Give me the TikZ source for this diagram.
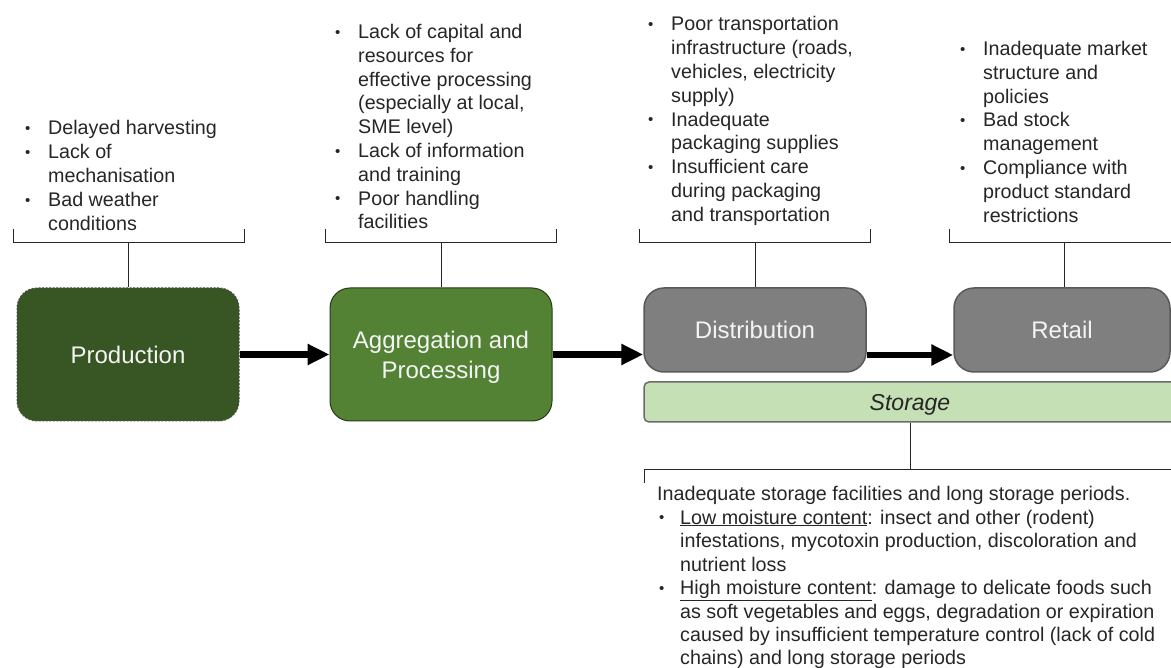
\documentclass[tikz,border=0pt]{standalone}
\usepackage{fontspec}
\setmainfont{Liberation Sans}
\usetikzlibrary{arrows.meta}

\definecolor{prodgreen}{HTML}{375623}
\definecolor{agggreen}{HTML}{548235}
\definecolor{stagegray}{HTML}{7F7F7F}
\definecolor{storegreen}{HTML}{C5E0B4}
\definecolor{labelwhite}{HTML}{F4F4F4}
\definecolor{inkgray}{HTML}{262626}

% small bullet and hanging indent for the issue lists
\newcommand\dotmark{{\fontsize{15}{15}\selectfont\raisebox{1.2pt}{•}}}
\newcommand\bl{\makebox[23pt][l]{\dotmark}}
\newcommand\ind{\hspace*{23pt}}
\newcommand\sbl{\hspace*{2pt}\makebox[21pt][l]{\dotmark}}

\begin{document}
\begin{tikzpicture}[x=1pt,y=-1pt,
  stage/.style={rounded corners=20pt, inner sep=0pt, minimum width=222pt,
    text=labelwhite, font=\fontsize{24}{30}\selectfont, align=center},
  issues/.style={anchor=base west, inner sep=0pt, text=inkgray,
    font=\fontsize{19.7}{23.8}\selectfont},
  bracket/.style={draw=inkgray, line width=1pt},
  flow/.style={line width=6.5pt, -{Triangle[length=22pt,width=20pt]}}
]
\useasboundingbox (0,0) rectangle (1171,668);
\fill[white] (0,0) rectangle (1171,668);
\clip (0,0) rectangle (1171,668);

% value-chain stages
\node[stage, fill=prodgreen, draw=black!70, line width=1pt,
      dash pattern=on 2pt off 1.5pt, minimum height=133pt]
  (prod) at (128,354.5) {Production};
\node[stage, fill=agggreen, draw=black!55!agggreen, line width=1pt,
      minimum height=133pt, text depth=0pt]
  (agg) at (441,354.5) {Aggregation and\\Processing};
\node[stage, fill=stagegray, draw=black!65, line width=1.5pt,
      minimum height=84pt]
  (dist) at (755,330) {Distribution};
\node[stage, fill=stagegray, draw=black!65, line width=1.5pt,
      minimum height=84pt, minimum width=216pt]
  (ret) at (1062,330) {Retail};
\node[rounded corners=5pt, fill=storegreen, draw=black!58, line width=1.5pt,
      minimum width=532pt, minimum height=40pt, inner sep=0pt, text depth=0pt,
      text=inkgray, font=\fontsize{23}{28}\selectfont\itshape]
  (store) at (910,402) {Storage};

% flow arrows
\draw[flow] (prod.east) -- (agg.west);
\draw[flow] (agg.east) -- (agg.east -| dist.west);
\draw[flow] ([yshift=-25pt]dist.east) -- ([yshift=-25pt]ret.west);

% issue lists
\node[issues] (prodnote) at (25,135) {\begin{tabular}[t]{@{}l@{}}
\bl Delayed harvesting\\
\bl Lack of\\
\ind mechanisation\\
\bl Bad weather\\
\ind conditions
\end{tabular}};

\node[issues] (aggnote) at (335,38.5) {\begin{tabular}[t]{@{}l@{}}
\bl Lack of capital and\\
\ind resources for\\
\ind effective processing\\
\ind (especially at local,\\
\ind SME level)\\
\bl Lack of information\\
\ind and training\\
\bl Poor handling\\
\ind facilities
\end{tabular}};

\node[issues] (distnote) at (648,31) {\begin{tabular}[t]{@{}l@{}}
\bl Poor transportation\\
\ind infrastructure (roads,\\
\ind vehicles, electricity\\
\ind supply)\\
\bl Inadequate\\
\ind packaging supplies\\
\bl Insufficient care\\
\ind during packaging\\
\ind and transportation
\end{tabular}};

\node[issues] (retnote) at (960,55.5) {\begin{tabular}[t]{@{}l@{}}
\bl Inadequate market\\
\ind structure and\\
\ind policies\\
\bl Bad stock\\
\ind management\\
\bl Compliance with\\
\ind product standard\\
\ind restrictions
\end{tabular}};

\node[issues, font=\fontsize{19.7}{23.5}\selectfont] (storenote) at (657,500.5)
{\begin{tabular}[t]{@{}l@{}}
Inadequate storage facilities and long storage periods.\\
\sbl\underline{Low moisture content}: insect and other (rodent)\\
\ind infestations, mycotoxin production, discoloration and\\
\ind nutrient loss\\
\sbl\underline{High moisture content}: damage to delicate foods such\\
\ind as soft vegetables and eggs, degradation or expiration\\
\ind caused by insufficient temperature control (lack of cold\\
\ind chains) and long storage periods
\end{tabular}};

% brackets gathering each list onto its stage
\coordinate (prodb) at (128,243);
\coordinate (aggb) at (441,243);
\coordinate (distb) at (755,243);
\coordinate (retb) at (1064,243);
\coordinate (storeb) at (910,469);

\draw[bracket] (13,229) |- (244,243) -- (244,229);
\draw[bracket] (325,229) |- (556,243) -- (556,229);
\draw[bracket] (639,229) |- (870,243) -- (870,229);
\draw[bracket] (949,229) |- (1185,243) -- (1185,229);
\draw[bracket] (644,483) |- (1185,469) -- (1185,483);

\draw[bracket] (prodb) -- (prod.north);
\draw[bracket] (aggb) -- (agg.north);
\draw[bracket] (distb) -- (dist.north);
\draw[bracket] (retb) -- (retb |- ret.north);
\draw[bracket] (store.south -| storeb) -- (storeb);
\end{tikzpicture}
\end{document}
